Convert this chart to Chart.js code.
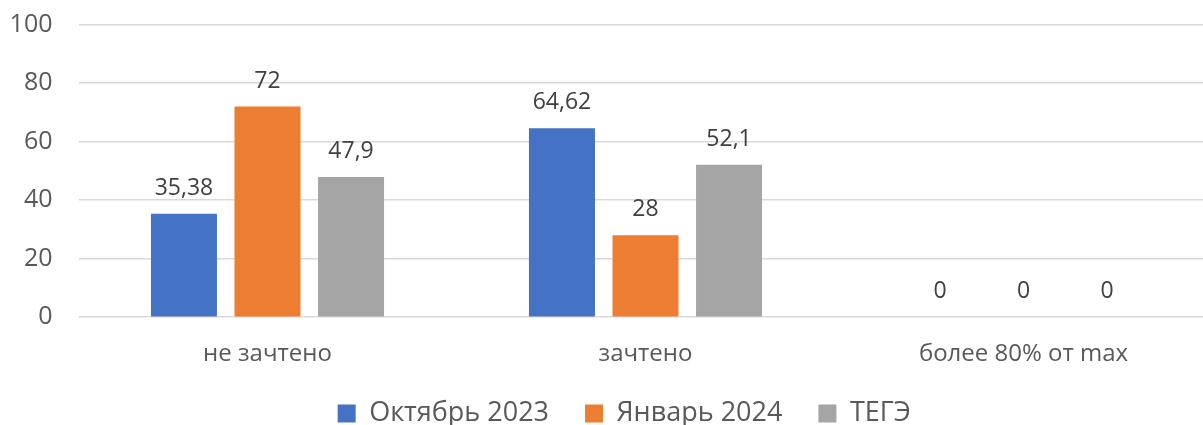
<!DOCTYPE html>
<html>
<head>
<meta charset="utf-8">
<script src="https://cdn.jsdelivr.net/npm/chart.js@4"></script>
<style>
  html, body { margin: 0; padding: 0; background: #fff; overflow: hidden; }
  .wrap { width: 1243px; height: 425px; }
</style>
</head>
<body>
<div class="wrap"><canvas id="chart"></canvas></div>
<script>
const categories = ['не зачтено', 'зачтено', 'более 80% от max'];
const october2023 = [35.38, 64.62, 0];
const january2024 = [72, 28, 0];
const tege = [47.9, 52.1, 0];
const seriesNames = ['Октябрь 2023', 'Январь 2024', 'ТЕГЭ'];
const colors = ['#4472C4', '#ED7D31', '#A5A5A5'];

// подписи значений над столбцами
const valueLabels = {
    id: 'valueLabels',
    afterLayout(chart) {
        // легенда в оригинале чуть правее центра и ближе к оси
        chart.legend.left += 18;
        chart.legend.right += 18;
        chart.legend.top -= 20;
    },
    afterDatasetsDraw(chart) {
        const ctx = chart.ctx;
        ctx.save();
        ctx.fillStyle = '#404040';
        ctx.font = '23px "Open Sans"';
        ctx.textAlign = 'center';
        ctx.textBaseline = 'bottom';
        chart.data.datasets.forEach((ds, i) => {
            chart.getDatasetMeta(i).data.forEach((bar, j) => {
                const txt = String(ds.data[j]).replace('.', ',');
                ctx.fillText(txt, bar.x, bar.y - 14);
            });
        });
        ctx.restore();
    }
};

const ctx = document.getElementById('chart').getContext('2d');
const chart = new Chart(ctx, {
    type: 'bar',
    data: {
        labels: categories,
        datasets: [
            { label: seriesNames[0], data: october2023, backgroundColor: colors[0] },
            { label: seriesNames[1], data: january2024, backgroundColor: colors[1] },
            { label: seriesNames[2], data: tege, backgroundColor: colors[2] }
        ]
    },
    options: {
        responsive: true,
        maintainAspectRatio: false,
        animation: false,
        categoryPercentage: 0.663,
        barPercentage: 0.79,
        layout: { padding: { top: 24.7, right: 30.5, left: 0, bottom: 0 } },
        plugins: {
            legend: {
                position: 'bottom',
                maxHeight: 41,
                labels: {
                    color: '#595959',
                    font: { family: '"Open Sans"', size: 27 },
                    boxWidth: 18,
                    boxHeight: 18,
                    padding: 36
                }
            },
            tooltip: { enabled: false }
        },
        scales: {
            x: {
                grid: { display: false },
                border: { display: false },
                ticks: {
                    color: '#595959',
                    font: { family: '"Open Sans"', size: 24 },
                    padding: 15
                }
            },
            y: {
                min: 0,
                max: 100,
                border: { display: false },
                grid: { color: '#d9d9d9', lineWidth: 1.5, drawTicks: false },
                ticks: {
                    stepSize: 20,
                    color: '#595959',
                    font: { family: '"Open Sans"', size: 25 },
                    padding: 26
                },
                afterFit(scale) {
                    scale.width = 78.5;
                    scale.paddingTop = 0;
                    scale.paddingBottom = 0;
                }
            }
        }
    },
    plugins: [valueLabels]
});
</script>
</body>
</html>
